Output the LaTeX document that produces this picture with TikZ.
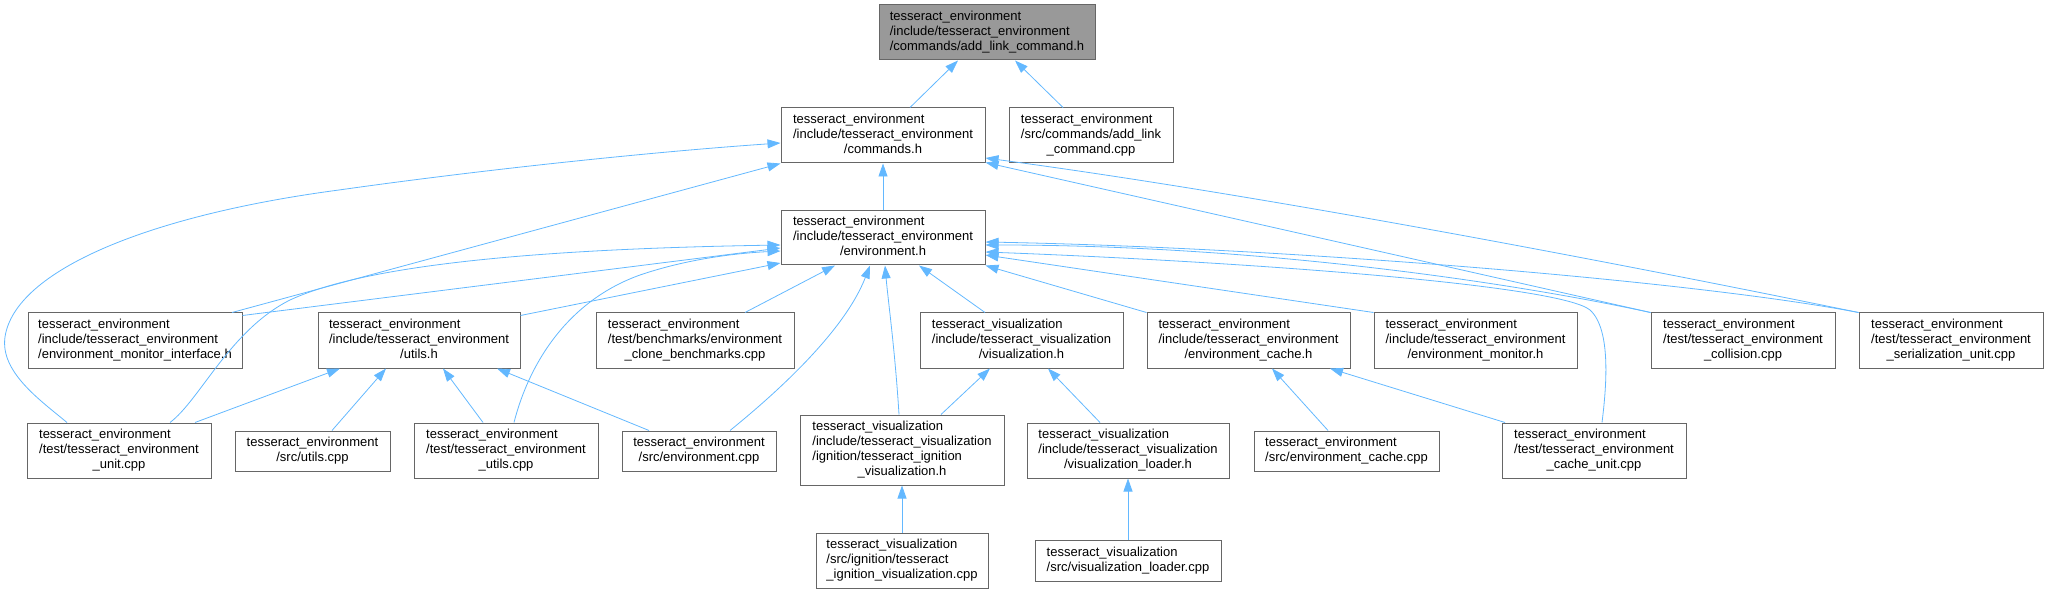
\documentclass[tikz,border=0pt]{standalone}
\usepackage{fontspec}
\setmainfont{Liberation Sans}
\usepackage{xcolor}
\usetikzlibrary{arrows.meta,calc}
\definecolor{edgeblue}{HTML}{63B8FF}
\definecolor{boxgray}{HTML}{666666}
% lines of a file node: all left, the last one centred
\newcommand{\flines}[2]{\begin{tabular}{@{}l@{}}#1\\\multicolumn{1}{@{}c@{}}{#2}\end{tabular}}

\begin{document}
\begin{tikzpicture}[x=1pt, y=-1pt,
  file/.style={draw=boxgray, line width=1pt, fill=white, inner sep=0pt,
    minimum height=55, font=\fontsize{13}{15}\selectfont},
  cur/.style={file, fill=black!40},
  inc/.style={-{Triangle[length=13pt,width=9pt]}, draw=edgeblue, line width=0.8pt}]
\useasboundingbox (0,0) rectangle (2049,593);
% ---- row 0/1: the header and its direct includers ----
\node[cur, minimum width=216] (root) at (987,32.5)
  {\flines{tesseract\_environment\\/include/tesseract\_environment}{/commands/add\_link\_command.h}};
\node[file, minimum width=204] (cmds) at (883,135.5)
  {\flines{tesseract\_environment\\/include/tesseract\_environment}{/commands.h}};
\node[file, minimum width=164] (addcpp) at (1091,135.5)
  {\flines{tesseract\_environment\\/src/commands/add\_link}{\_command.cpp}};
\node[file, minimum width=204, minimum height=54] (envh) at (883,238)
  {\flines{tesseract\_environment\\/include/tesseract\_environment}{/environment.h}};
% ---- row 3 ----
\node[file, minimum width=214] (emi) at (135,340.5)
  {\flines{tesseract\_environment\\/include/tesseract\_environment}{/environment\_monitor\_interface.h}};
\node[file, minimum width=202] (utilsh) at (419,340.5)
  {\flines{tesseract\_environment\\/include/tesseract\_environment}{/utils.h}};
\node[file, minimum width=198] (bench) at (695,340.5)
  {\flines{tesseract\_environment\\/test/benchmarks/environment}{\_clone\_benchmarks.cpp}};
\node[file, minimum width=203] (vish) at (1021.5,340.5)
  {\flines{tesseract\_visualization\\/include/tesseract\_visualization}{/visualization.h}};
\node[file, minimum width=203] (cacheh) at (1248.5,340.5)
  {\flines{tesseract\_environment\\/include/tesseract\_environment}{/environment\_cache.h}};
\node[file, minimum width=203] (monh) at (1475.5,340.5)
  {\flines{tesseract\_environment\\/include/tesseract\_environment}{/environment\_monitor.h}};
\node[file, minimum width=184] (coll) at (1743,340.5)
  {\flines{tesseract\_environment\\/test/tesseract\_environment}{\_collision.cpp}};
\node[file, minimum width=184] (ser) at (1951,340.5)
  {\flines{tesseract\_environment\\/test/tesseract\_environment}{\_serialization\_unit.cpp}};
% ---- row 4 ----
\node[file, minimum width=184] (unit) at (119,450.5)
  {\flines{tesseract\_environment\\/test/tesseract\_environment}{\_unit.cpp}};
\node[file, minimum width=155, minimum height=40] (utilscpp) at (312.5,451)
  {\flines{tesseract\_environment}{/src/utils.cpp}};
\node[file, minimum width=184] (tutils) at (506,450.5)
  {\flines{tesseract\_environment\\/test/tesseract\_environment}{\_utils.cpp}};
\node[file, minimum width=154, minimum height=40] (envcpp) at (699,451)
  {\flines{tesseract\_environment}{/src/environment.cpp}};
\node[file, minimum width=204, minimum height=70] (ignh) at (902,450)
  {\flines{tesseract\_visualization\\/include/tesseract\_visualization\\/ignition/tesseract\_ignition}{\_visualization.h}};
\node[file, minimum width=202] (loadh) at (1128,450.5)
  {\flines{tesseract\_visualization\\/include/tesseract\_visualization}{/visualization\_loader.h}};
\node[file, minimum width=185, minimum height=40] (cachecpp) at (1346.5,451)
  {\flines{tesseract\_environment}{/src/environment\_cache.cpp}};
\node[file, minimum width=184] (cacheunit) at (1594,450.5)
  {\flines{tesseract\_environment\\/test/tesseract\_environment}{\_cache\_unit.cpp}};
% ---- row 5 ----
\node[file, minimum width=172] (igncpp) at (902,560.5)
  {\flines{tesseract\_visualization\\/src/ignition/tesseract}{\_ignition\_visualization.cpp}};
\node[file, minimum width=186, minimum height=41] (loadcpp) at (1128,560.5)
  {\flines{tesseract\_visualization}{/src/visualization\_loader.cpp}};
% ---- include edges into the header ----
\draw[inc] ($(cmds.north)+(27,0)$) -- ($(root.south)+(-29,0)$);
\draw[inc] ($(addcpp.north)+(-28,0)$) -- ($(root.south)+(28,0)$);
% ---- into commands.h ----
\draw[inc] (envh.north) -- (cmds.south);
\draw[inc] ($(unit.north)+(-52,0)$) .. controls (40,400) and (0,372) .. (5,337)
  .. controls (15,270) and (150,215) .. (339,190)
  .. controls (480,170) and (650,152) .. ($(cmds.west)+(0,7.5)$);
\draw[inc] ($(emi.north)+(97,0)$) -- (cmds.south west);
\draw[inc] (coll.north west) -- ($(cmds.south east)+(0,-1)$);
\draw[inc] (ser.north west) .. controls (1700,280) and (1300,200) .. ($(cmds.east)+(0,22.5)$);
% ---- into environment.h, left ----
\draw[inc] ($(emi.north east)+(0,3)$) -- ($(envh.west)+(0,10)$);
\draw[inc] ($(utilsh.north east)+(0,3)$) -- ($(envh.west)+(0,25)$);
\draw[inc] ($(unit.north)+(51,0)$) .. controls (200,400) and (230,330) .. (290,300)
  .. controls (380,258) and (600,248) .. ($(envh.west)+(0,7)$);
\draw[inc] ($(tutils.north)+(8,0)$) .. controls (530,360) and (570,300) .. (640,275)
  .. controls (690,258) and (740,253) .. ($(envh.west)+(0,13)$);
% ---- into environment.h, below ----
\draw[inc] ($(bench.north)+(50,0)$) -- ($(envh.south)+(-48,0)$);
\draw[inc] ($(envcpp.north)+(31,0)$) .. controls (780,390) and (845,330) .. ($(envh.south)+(-13,0)$);
\draw[inc] ($(ignh.north)+(-3,0)$) .. controls (895,350) and (888,300) .. ($(envh.south)+(2,0)$);
\draw[inc] ($(vish.north)+(-36.5,0)$) -- ($(envh.south)+(36,0)$);
\draw[inc] (cacheh.north west) -- (envh.south east);
% ---- into environment.h, right ----
\draw[inc] (monh.north west) -- ($(envh.east)+(0,17)$);
\draw[inc] (coll.north west) .. controls (1500,280) and (1250,245) .. ($(envh.east)+(0,7)$);
\draw[inc] (ser.north west) .. controls (1700,282) and (1300,248) .. ($(envh.east)+(0,4)$);
\draw[inc] ($(cacheunit.north)+(8,0)$) .. controls (1606,390) and (1612,330) .. (1590,310)
  .. controls (1560,285) and (1250,262) .. ($(envh.east)+(0,14)$);
% ---- into utils.h ----
\draw[inc] ($(unit.north)+(76,0)$) -- ($(utilsh.south)+(-79,0)$);
\draw[inc] ($(utilscpp.north)+(19.5,0)$) -- ($(utilsh.south)+(-33,0)$);
\draw[inc] ($(tutils.north)+(-23,0)$) -- ($(utilsh.south)+(24,0)$);
\draw[inc] ($(envcpp.north)+(-50,0)$) -- ($(utilsh.south)+(78,0)$);
% ---- into visualization.h and environment_cache.h ----
\draw[inc] ($(ignh.north)+(39,0)$) -- ($(vish.south)+(-31.5,0)$);
\draw[inc] ($(loadh.north)+(-28,0)$) -- ($(vish.south)+(26.5,0)$);
\draw[inc] ($(cachecpp.north)+(-18.5,0)$) -- ($(cacheh.south)+(23.5,0)$);
\draw[inc] ($(cacheunit.north)+(-89,0)$) -- ($(cacheh.south)+(81.5,0)$);
% ---- bottom row ----
\draw[inc] (igncpp.north) -- (ignh.south);
\draw[inc] (loadcpp.north) -- (loadh.south);
\end{tikzpicture}
\end{document}
